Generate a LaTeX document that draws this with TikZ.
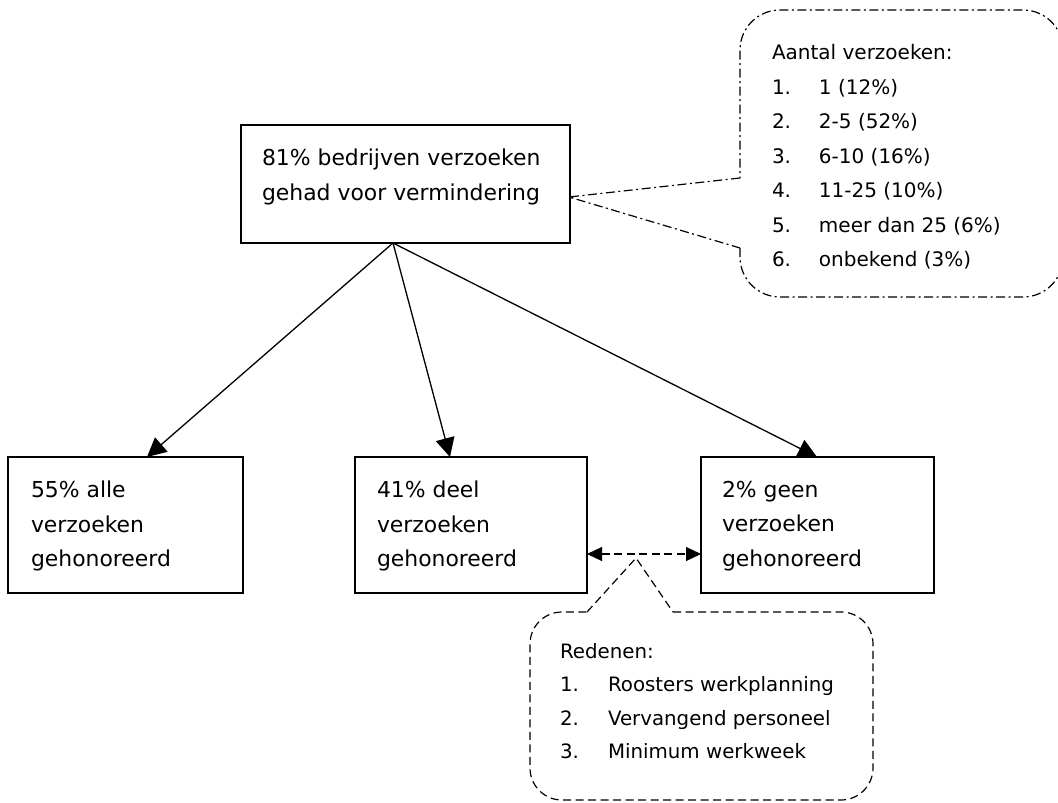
\documentclass[tikz,border=0pt]{standalone}
\usepackage{fontspec}
\setmainfont{DejaVu Sans}
\usetikzlibrary{arrows.meta}
\begin{document}
\begin{tikzpicture}[x=1pt,y=-1pt,
  box/.style={draw, line width=1.3pt, rectangle, inner sep=0pt, outer sep=0pt, anchor=north west},
  boxtext/.style={anchor=north west, inner sep=0pt, outer sep=0pt, align=left, font=\fontsize{21.9}{34.5}\selectfont},
  calltext/.style={anchor=north west, inner sep=0pt, outer sep=0pt, align=left, font=\fontsize{20}{34.5}\selectfont},
  arr/.style={line width=1.3pt, -{Triangle[length=19pt,width=19pt]}},
  dblarr/.style={line width=1.2pt, dash pattern=on 8pt off 4.5pt, {Triangle[length=15pt,width=14pt]}-{Triangle[length=15pt,width=14pt]}},
  calloutA/.style={line width=1.2pt, dash pattern=on 9pt off 3.5pt on 2pt off 3.5pt},
  calloutB/.style={line width=1.2pt, dash pattern=on 8pt off 4.5pt}
]
\useasboundingbox[fill=white] (0,0) rectangle (1058,803);

% boxes
\node[box, minimum width=329pt, minimum height=118pt] (top) at (241,125) {};
\node[box, minimum width=235pt, minimum height=136pt] (bl) at (8,457) {};
\node[box, minimum width=232pt, minimum height=136pt] (mb) at (355,457) {};
\node[box, minimum width=233pt, minimum height=136pt] (rb) at (701,457) {};

% box texts
\node[boxtext] (toptxt) at (262,149) {81\% bedrijven verzoeken\\gehad voor vermindering};
\node[boxtext] (bltxt) at (31,481) {55\% alle\\verzoeken\\gehonoreerd};
\node[boxtext] (mbtxt) at (377,481) {41\% deel\\verzoeken\\gehonoreerd};
\node[boxtext] (rbtxt) at (722,481) {2\% geen\\verzoeken\\gehonoreerd};

% arrows
\draw[arr] ([xshift=152pt]top.south west) -- ([xshift=139pt]bl.north west);
\draw[arr] ([xshift=152pt]top.south west) -- ([xshift=95pt]mb.north west);
\draw[arr] ([xshift=152pt]top.south west) -- ([xshift=116pt]rb.north west);
\draw[dblarr] ([yshift=-29pt]mb.east) -- ([yshift=-29pt]rb.west);

% top callout
\draw[calloutA, rounded corners=40pt] (740,248) -- (740,297) -- (1063,297) -- (1063,10) -- (740,10) -- (740,178);
\draw[calloutA] (740,178) -- (569,197) -- (740,248);
\node[calltext] (ctop) at (772,44.5) {Aantal verzoeken:\\
\makebox[47pt][l]{1.}1 (12\%)\\
\makebox[47pt][l]{2.}2-5 (52\%)\\
\makebox[47pt][l]{3.}6-10 (16\%)\\
\makebox[47pt][l]{4.}11-25 (10\%)\\
\makebox[47pt][l]{5.}meer dan 25 (6\%)\\
\makebox[47pt][l]{6.}onbekend (3\%)};

% bottom callout
\draw[calloutB, rounded corners=32pt] (673,612) -- (873,612) -- (873,800) -- (530,800) -- (530,612) -- (587,612);
\draw[calloutB] (587,612) -- (636,558) -- (673,612);
\node[calltext, font=\fontsize{19.8}{33.4}\selectfont] (cbot) at (560,643.5) {Redenen:\\
\makebox[48pt][l]{1.}Roosters werkplanning\\
\makebox[48pt][l]{2.}Vervangend personeel\\
\makebox[48pt][l]{3.}Minimum werkweek};
\end{tikzpicture}
\end{document}
